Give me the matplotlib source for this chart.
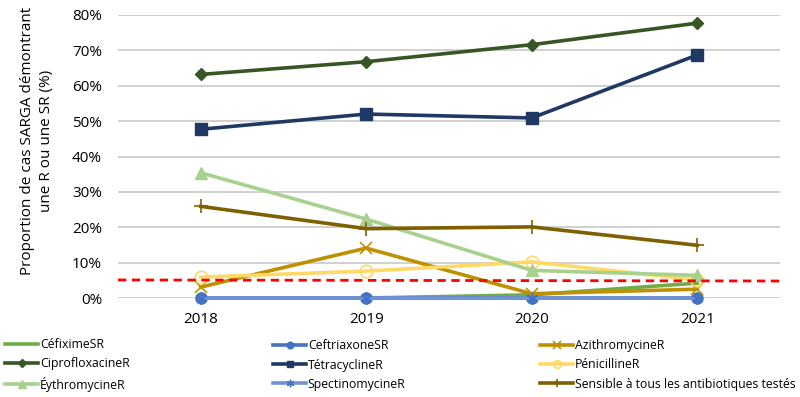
import matplotlib
matplotlib.use('Agg')
import matplotlib.pyplot as plt
from matplotlib.ticker import FuncFormatter

plt.rcParams['font.family'] = ['Open Sans', 'DejaVu Sans']

years = ['2018', '2019', '2020', '2021']

# proportions (%)
cefixime_sr = [0.0, 0.0, 0.9, 4.2]
ceftriaxone_sr = [0.0, 0.0, 0.0, 0.0]
azithromycine_r = [3.1, 14.1, 1.2, 2.5]
ciprofloxacine_r = [63.2, 66.8, 71.6, 77.7]
tetracycline_r = [47.7, 52.0, 50.9, 68.7]
penicilline_r = [5.9, 7.6, 10.2, 5.1]
erythromycine_r = [35.4, 22.3, 7.8, 6.4]
spectinomycine_r = [0.0, 0.0, 0.0, 0.0]
sensible_tous = [25.9, 19.6, 20.1, 14.9]

# 5% reference line (slightly sloped in the original)
seuil_x = [-0.5, 3.5]
seuil_y = [5.1, 4.8]

x = list(range(len(years)))

fig = plt.figure(figsize=(8, 3.97), dpi=100)
ax = fig.add_axes([118 / 800, 1 - 298 / 397, 662 / 800, 283 / 397])

lw = 2.6
h = {}
h['cef'], = ax.plot(x, cefixime_sr, color='#70AD47', lw=lw, label='CéfiximeSR')
h['ceft'], = ax.plot(x, ceftriaxone_sr, color='#4472C4', lw=lw, marker='o', ms=8,
                     label='CeftriaxoneSR')
h['azi'], = ax.plot(x, azithromycine_r, color='#BF9000', lw=lw, marker='x', ms=9,
                    mew=1.2, label='AzithromycineR')
h['cip'], = ax.plot(x, ciprofloxacine_r, color='#375623', lw=lw, marker='D', ms=6.5,
                    label='CiprofloxacineR')
h['tet'], = ax.plot(x, tetracycline_r, color='#203864', lw=lw, marker='s', ms=8,
                    label='TétracyclineR')
h['pen'], = ax.plot(x, penicilline_r, color='#FFD966', lw=lw, marker='o', ms=9,
                    mfc='none', mew=1.2, label='PénicillineR')
h['ery'], = ax.plot(x, erythromycine_r, color='#A9D18E', lw=lw, marker='^', ms=9,
                    label='ÉythromycineR')
h['spe'], = ax.plot(x, spectinomycine_r, color='#6F93D4', lw=lw, marker=(6, 2, 0), ms=9,
                    mec='#4472C4', mew=1.0, label='SpectinomycineR')
h['sen'], = ax.plot(x, sensible_tous, color='#7F6000', lw=lw, marker='+', ms=10,
                    mew=1.2, label='Sensible à tous les antibiotiques testés')
for line in h.values():
    line.set_clip_on(False)

ax.plot(seuil_x, seuil_y, color='#FF0000', lw=2, ls=(0, (3, 2)))

ax.set_xlim(-0.5, 3.5)
ax.set_ylim(0, 80)
ax.set_yticks(range(0, 81, 10))
ax.yaxis.set_major_formatter(FuncFormatter(lambda v, p: f'{v:.0f}%'))
ax.set_xticks(x)
ax.set_xticklabels(years)
ax.grid(axis='y', color='#C8C8C8', lw=1.2)
ax.set_axisbelow(True)
for s in ax.spines.values():
    s.set_visible(False)
ax.tick_params(length=0, labelsize=11, colors='#000000')
ax.tick_params(axis='x', pad=10)
ax.tick_params(axis='y', pad=11.5)

fig.text(37 / 800, 1 - 141 / 397, 'Proportion de cas SARGA démontrant\nune R ou une SR (%)',
         rotation=90, ha='center', va='center', fontsize=11, linespacing=1.3)

# three one-column legends, laid out row by row as in the original
columns = [['cef', 'cip', 'ery'], ['ceft', 'tet', 'spe'], ['azi', 'pen', 'sen']]
col_x = [5 / 800, 273 / 800, 540 / 800]
for keys, cx in zip(columns, col_x):
    fig.legend([h[k] for k in keys], [h[k].get_label() for k in keys],
               loc='center left', bbox_to_anchor=(cx, 1 - 365 / 397),
               frameon=False, fontsize=8.8, handlelength=2.7, handletextpad=0.15,
               labelspacing=0.5, borderaxespad=0.0, borderpad=0.0,
               markerscale=0.6)

fig.savefig('out.png', dpi=100)
